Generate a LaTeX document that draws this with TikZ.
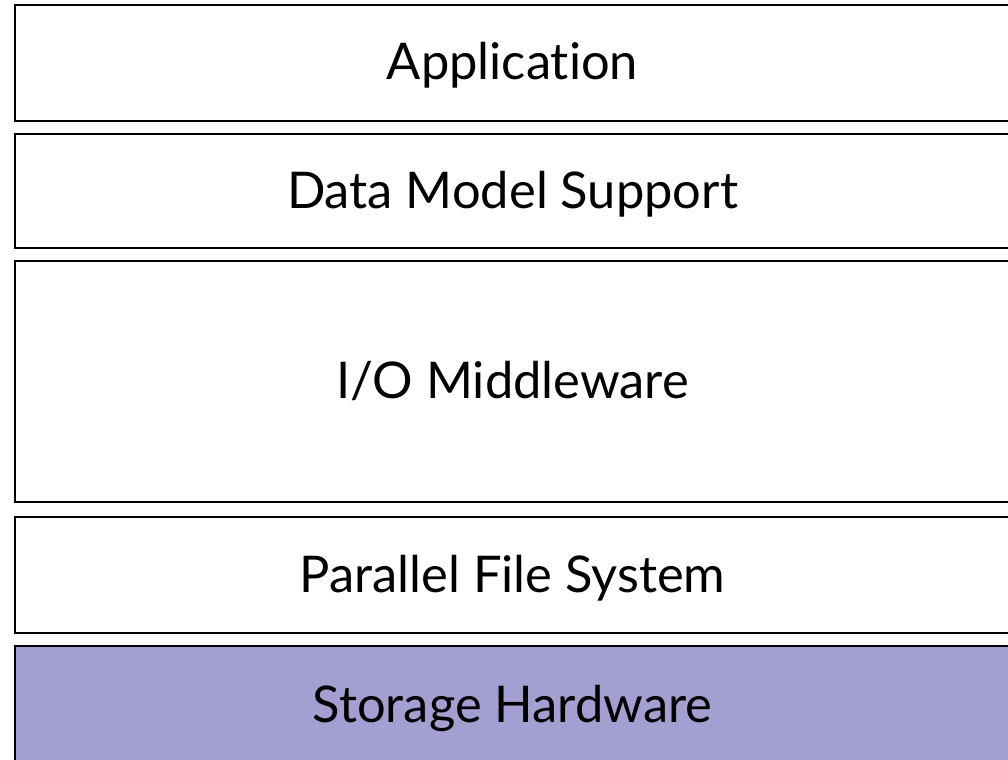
\documentclass[tikz,border=0pt]{standalone}
\usepackage{fontspec}
\setmainfont{Lato}[Ligatures=NoCommon]
\usetikzlibrary{positioning}
\definecolor{hwfill}{RGB}{163,160,209}

\begin{document}
\begin{tikzpicture}[layer/.style={draw,rectangle,line width=1.4pt,outer sep=0pt,inner sep=0pt,minimum width=24.875cm,text height=24pt,text depth=0pt,font=\fontsize{36}{40}\selectfont}]
\useasboundingbox (0,0) rectangle (25.2,-19);

\node (app) [layer,minimum height=2.9cm] at (12.8125,-1.575) {Application};
\node (dms) [layer,below=0.33cm of app,minimum height=2.85cm] {Data Model Support};
\node (iomw) [layer,below=0.33cm of dms,minimum height=6.025cm] {I/O Middleware};
\node (pfs) [layer,below=0.37cm of iomw,minimum height=2.9cm] {Parallel File System};
\node (hw) [layer,fill=hwfill,below=0.33cm of pfs,minimum height=2.95cm] {Storage Hardware};

\end{tikzpicture}
\end{document}
